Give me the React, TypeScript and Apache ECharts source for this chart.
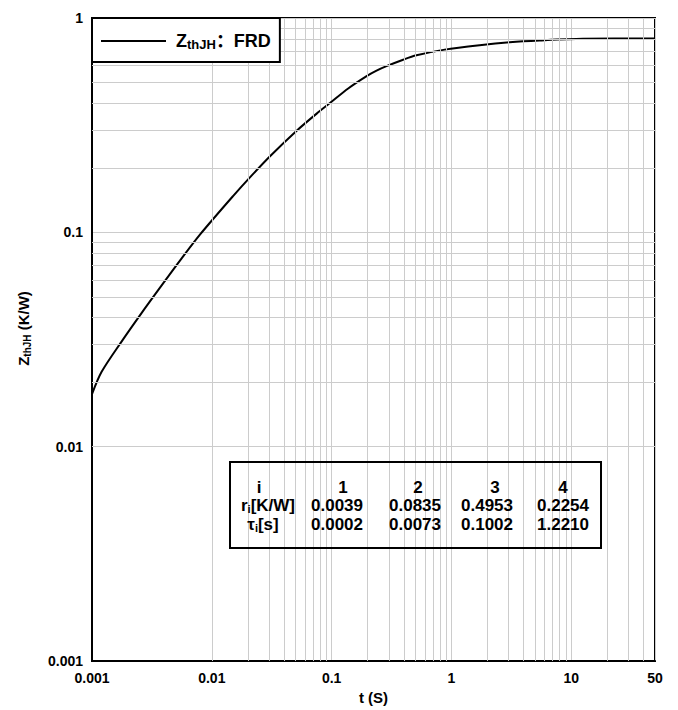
import React, { useEffect, useRef } from "react";
import * as echarts from "echarts";

// Curve (t in s, Zth in K/W)
const tValues = [0.001, 0.0012, 0.00177, 0.00259, 0.0038, 0.00558, 0.00799, 0.0151, 0.0209, 0.0306, 0.0511, 0.075, 0.0974, 0.1375, 0.196, 0.237, 0.287, 0.395, 0.511, 0.879, 1.72, 3.06, 5.44, 12.5, 50];
const zValues = [0.0176, 0.0223, 0.031, 0.042, 0.0564, 0.0754, 0.0978, 0.148, 0.181, 0.2265, 0.298, 0.358, 0.402, 0.469, 0.5355, 0.568, 0.596, 0.639, 0.67, 0.712, 0.747, 0.771, 0.786, 0.8, 0.802];

// Table of Foster parameters
const tableIndex = ["1", "2", "3", "4"];
const rValues = ["0.0039", "0.0835", "0.4953", "0.2254"];
const tauValues = ["0.0002", "0.0073", "0.1002", "1.2210"];

const xDecades = [0.001, 0.01, 0.1, 1, 10];
const yDecades = [0.001, 0.01, 0.1];
const xMax = 50;

const FONT = "Liberation Sans, Arial, Noto Sans CJK SC, sans-serif";

export default function App() {
  const ref = useRef<HTMLDivElement>(null);
  useEffect(() => {
    if (!ref.current) return;
    const chart = echarts.init(ref.current, undefined, { renderer: "svg" });

    const xMinor: number[] = [];
    xDecades.forEach((d) => {
      for (let k = 2; k <= 9; k++) {
        const v = +(d * k).toPrecision(3);
        if (v < xMax) xMinor.push(v);
      }
    });
    const yMinor: number[] = [];
    yDecades.forEach((d) => {
      for (let k = 2; k <= 9; k++) yMinor.push(+(d * k).toPrecision(3));
    });

    const gridColor = "#cccccc";
    const left = 92, top = 18, right = 23, bottom = 44;

    // table geometry
    const tx = 230, ty = 462, tw = 371, th = 86;
    const headCx = [343, 418, 495, 563];
    const valCx = [337, 415, 487, 563];
    const rowY = [487, 505, 524];
    const baseText = {
      fontFamily: FONT,
      fontWeight: "bold",
      fontSize: 17,
      fill: "#000",
    };
    const txt = (x: number, y: number, text: string) => ({
      type: "text",
      x,
      y,
      z: 20,
      style: { ...baseText, text, align: "center", verticalAlign: "middle" },
    });
    const richSub = {
      a: { fontFamily: FONT, fontWeight: "bold", fontSize: 17, fill: "#000", lineHeight: 18 },
      b: { fontFamily: FONT, fontWeight: "bold", fontSize: 11, fill: "#000", lineHeight: 11, padding: [9, 0, 0, 0], verticalAlign: "bottom" },
    };
    const tableChildren: any[] = [
      {
        type: "rect",
        z: 20,
        shape: { x: tx, y: ty, width: tw, height: th },
        style: { fill: "none", stroke: "#000", lineWidth: 2 },
      },
      txt(259, rowY[0], "i"),
      {
        type: "text",
        x: 268,
        y: rowY[1],
        z: 20,
        style: { text: "{a|r}{b|i}{a|[K/W]}", align: "center", verticalAlign: "middle", rich: richSub },
      },
      {
        type: "text",
        x: 263,
        y: rowY[2],
        z: 20,
        style: { text: "{a|τ}{b|i}{a|[s]}", align: "center", verticalAlign: "middle", rich: richSub },
      },
    ];
    tableIndex.forEach((s, i) => tableChildren.push(txt(headCx[i], rowY[0], s)));
    rValues.forEach((s, i) => tableChildren.push(txt(valCx[i], rowY[1], s)));
    tauValues.forEach((s, i) => tableChildren.push(txt(valCx[i], rowY[2], s)));

    const option: any = {
      animation: false,
      backgroundColor: "#fff",
      textStyle: { fontFamily: FONT },
      grid: {
        left,
        top,
        right,
        bottom,
        show: true,
        borderColor: "#000",
        borderWidth: 2,
        backgroundColor: "transparent",
      },
      legend: {
        left: 92,
        top: 18,
        data: [{ name: "ZthJH", icon: "rect" }],
        backgroundColor: "#fff",
        borderColor: "#000",
        borderWidth: 2,
        borderRadius: 0,
        padding: [11, 9, 11, 9],
        itemWidth: 65,
        itemHeight: 2,
        itemStyle: { color: "#000" },
        selectedMode: false,
        formatter: () => "{z0|Z}{s|thJH}{z|：FRD}",
        textStyle: {
          rich: {
            z0: { fontFamily: FONT, fontWeight: "bold", fontSize: 18, color: "#000", lineHeight: 20, padding: [0, 0, 0, 5] },
            z: { fontFamily: FONT, fontWeight: "bold", fontSize: 18, color: "#000", lineHeight: 20 },
            s: { fontFamily: FONT, fontWeight: "bold", fontSize: 13, color: "#000", lineHeight: 13, padding: [9, 0, 0, 0], verticalAlign: "bottom" },
          },
        },
        z: 10,
      },
      xAxis: {
        type: "log",
        logBase: 10,
        min: 0.001,
        max: xMax,
        name: "t (S)",
        nameLocation: "middle",
        nameGap: 29,
        nameTextStyle: { fontFamily: FONT, fontWeight: "bold", fontSize: 15, color: "#000" },
        axisLine: { show: true, lineStyle: { color: "#000", width: 2 } },
        axisTick: { show: false },
        axisLabel: {
          fontFamily: FONT,
          fontWeight: "bold",
          fontSize: 14,
          color: "#000",
          margin: 10,
          showMaxLabel: true,
          formatter: (v: number) => String(+v.toPrecision(3)),
        },
        splitLine: { show: true, lineStyle: { color: gridColor, width: 1 } },
      },
      yAxis: {
        type: "log",
        logBase: 10,
        min: 0.001,
        max: 1,
        name: "{z|Z}{s|thJH}{z| (K/W)}",
        nameLocation: "middle",
        nameGap: 60,
        nameRotate: 90,
        nameTextStyle: {
          padding: [0, 0, 0, 22],
          rich: {
            z: { fontFamily: FONT, fontWeight: "bold", fontSize: 15, color: "#000", lineHeight: 17 },
            s: { fontFamily: FONT, fontWeight: "bold", fontSize: 10, color: "#000", lineHeight: 10, padding: [8, 0, 0, 0], verticalAlign: "bottom" },
          },
        },
        axisLine: { show: true, lineStyle: { color: "#000", width: 2 } },
        axisTick: { show: false },
        axisLabel: {
          fontFamily: FONT,
          fontWeight: "bold",
          fontSize: 14,
          color: "#000",
          margin: 9,
          formatter: (v: number) => String(+v.toPrecision(3)),
        },
        splitLine: { show: true, lineStyle: { color: gridColor, width: 1 } },
      },
      series: [
        {
          name: "minor",
          type: "line",
          data: [],
          z: 1,
          silent: true,
          markLine: {
            silent: true,
            symbol: ["none", "none"],
            label: { show: false },
            emphasis: { disabled: true },
            lineStyle: { color: gridColor, width: 1, type: "solid" },
            data: [
              ...xMinor.map((v) => ({ xAxis: v })),
              ...yMinor.map((v) => ({ yAxis: v })),
            ],
          },
        },
        {
          name: "ZthJH",
          type: "line",
          z: 3,
          data: tValues.map((t, i) => [t, zValues[i]]),
          symbol: "none",
          showSymbol: false,
          smooth: 0.3,
          lineStyle: { color: "#000", width: 2 },
          itemStyle: { color: "#000" },
        },
      ],
      graphic: [
        {
          type: "group",
          z: 20,
          children: tableChildren,
        },
      ],
    };
    chart.setOption(option);
    return () => chart.dispose();
  }, []);
  return <div ref={ref} style={{ width: 678, height: 710, position: "absolute", left: 0, top: 0 }} />;
}
